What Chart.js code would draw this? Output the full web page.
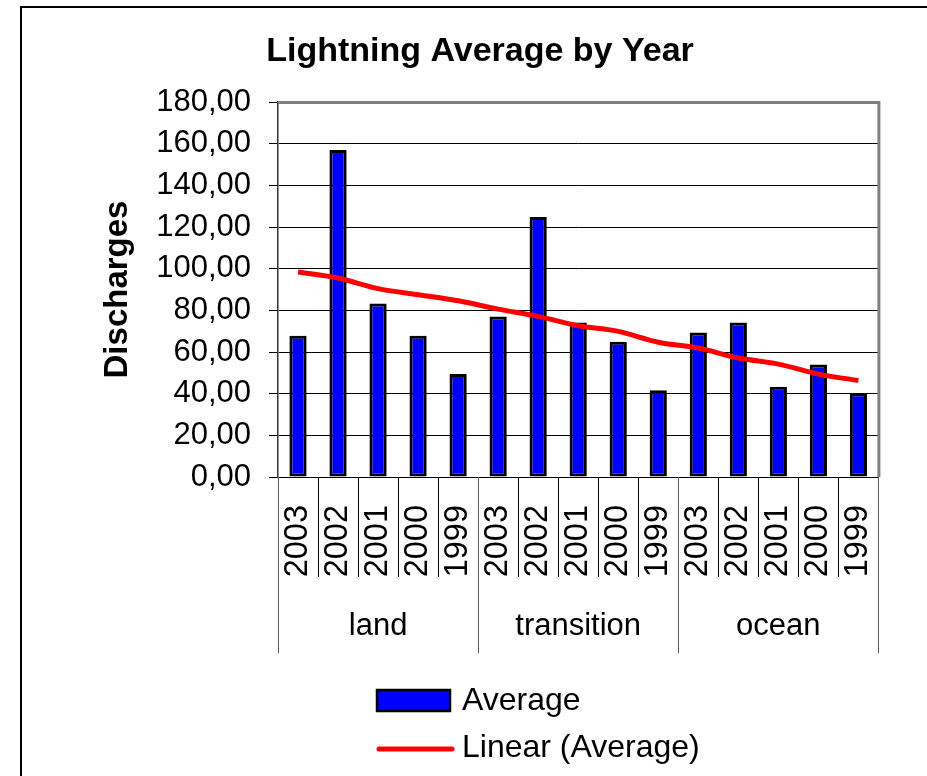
<!DOCTYPE html>
<html>
<head>
<meta charset="utf-8">
<script src="https://cdn.jsdelivr.net/npm/chart.js@4/dist/chart.umd.min.js"></script>
<style>
  html, body { margin: 0; padding: 0; background: #fff; }
  #wrap { position: relative; width: 927px; height: 776px; }
</style>
</head>
<body>
<div id="wrap"><canvas id="c"></canvas></div>
<script>
// ---- data ----
const years = ['2003','2002','2001','2000','1999','2003','2002','2001','2000','1999','2003','2002','2001','2000','1999'];
const groups = ['land', 'transition', 'ocean'];
const averageValues = [67.8, 157.0, 83.3, 67.8, 49.4, 77.1, 124.8, 74.2, 64.9, 41.7, 69.4, 74.2, 43.3, 54.0, 40.2];
const trendValues = [98.4, 95.5, 90.4, 87.5, 84.6, 80.6, 77.1, 72.6, 69.9, 64.7, 61.9, 57.1, 54.2, 49.4, 46.3];
const yTickValues = [0, 20, 40, 60, 80, 100, 120, 140, 160, 180];
const titleText = 'Lightning Average by Year';
const yTitleText = 'Discharges';
const barLabel = 'Average';
const trendLabel = 'Linear (Average)';

const FONT = "'Liberation Sans', Arial, sans-serif";

const decorPlugin = {
  id: 'decor',
  beforeDraw(chart) {
    const ctx = chart.ctx;
    ctx.save();
    ctx.fillStyle = '#fff';
    ctx.fillRect(0, 0, chart.width, chart.height);
    ctx.strokeStyle = '#000';
    ctx.lineWidth = 2;
    ctx.strokeRect(21, 7, chart.width + 10, chart.height + 10);
    ctx.restore();
  },
  afterDraw(chart) {
    const ctx = chart.ctx;
    const xs = chart.scales.x;
    const area = chart.chartArea;
    const n = years.length;
    ctx.save();
    // plot frame top/right in gray
    ctx.strokeStyle = '#808080';
    ctx.lineWidth = 3;
    ctx.beginPath();
    ctx.moveTo(area.left, area.top + 0.5);
    ctx.lineTo(area.right + 0.5, area.top + 0.5);
    ctx.lineTo(area.right + 0.5, area.bottom);
    ctx.stroke();

    // category separators below axis
    for (let i = 0; i <= n; i++) {
      let x;
      if (i === 0) x = xs.left;
      else if (i === n) x = xs.right;
      else x = (xs.getPixelForValue(i - 1) + xs.getPixelForValue(i)) / 2;
      x = Math.round(x) + 0.5;
      const isGroup = i % 5 === 0;
      ctx.strokeStyle = isGroup ? '#555' : '#000';
      ctx.lineWidth = 1;
      ctx.beginPath();
      ctx.moveTo(x, area.bottom);
      ctx.lineTo(x, isGroup ? 653 : 577);
      ctx.stroke();
    }
    // group labels
    ctx.fillStyle = '#000';
    ctx.font = '31px ' + FONT;
    ctx.textAlign = 'center';
    ctx.textBaseline = 'middle';
    groups.forEach((g, gi) => {
      const cx = (xs.getPixelForValue(gi * 5) + xs.getPixelForValue(gi * 5 + 4)) / 2;
      ctx.fillText(g, cx, 626);
    });

    // legend
    const barDs = chart.data.datasets.find(d => d.type === 'bar');
    const lineDs = chart.data.datasets.find(d => d.type === 'line');
    ctx.fillStyle = barDs.backgroundColor;
    ctx.fillRect(377, 690, 73, 21);
    ctx.strokeStyle = '#000';
    ctx.lineWidth = 2.5;
    ctx.strokeRect(377, 690, 73, 21);
    ctx.strokeStyle = lineDs.borderColor;
    ctx.lineWidth = 5;
    ctx.lineCap = 'round';
    ctx.beginPath();
    ctx.moveTo(379, 749);
    ctx.lineTo(452, 749);
    ctx.stroke();
    ctx.fillStyle = '#000';
    ctx.textAlign = 'left';
    ctx.font = '32px ' + FONT;
    ctx.fillText(barDs.label, 462, 701);
    ctx.fillText(lineDs.label, 462, 748);
    ctx.restore();
  }
};

new Chart(document.getElementById('c'), {
  data: {
    labels: years,
    datasets: [
      {
        type: 'line',
        label: trendLabel,
        data: trendValues,
        borderColor: '#FF0000',
        borderWidth: 5,
        pointRadius: 0,
        tension: 0.3,
        fill: false,
        order: 0
      },
      {
        type: 'bar',
        label: barLabel,
        data: averageValues,
        backgroundColor: '#0000FF',
        borderColor: '#000000',
        borderWidth: 3,
        borderSkipped: false,
        barPercentage: 0.43,
        categoryPercentage: 1.0,
        order: 1
      }
    ]
  },
  options: {
    responsive: true,
    maintainAspectRatio: false,
    animation: false,
    devicePixelRatio: 1,
    layout: { padding: { left: 81, right: 48, top: 0, bottom: 0 } },
    plugins: {
      legend: { display: false },
      tooltip: { enabled: false },
      title: {
        display: true,
        text: titleText,
        color: '#000',
        font: { family: FONT, size: 34, weight: 'bold', lineHeight: 1.2 },
        padding: { top: 31, bottom: 30.2 }
      }
    },
    scales: {
      x: {
        type: 'category',
        offset: true,
        grid: { display: false, drawTicks: false, tickLength: 0 },
        border: { display: true, color: '#000', width: 1 },
        ticks: {
          autoSkip: false,
          minRotation: 90,
          maxRotation: 90,
          padding: 28,
          color: '#000',
          font: { family: FONT, size: 32.5 }
        },
        afterFit(s) { s.height = 299; }
      },
      y: {
        min: 0,
        max: 180,
        afterBuildTicks(s) { s.ticks = yTickValues.map(v => ({ value: v })); },
        grid: { color: '#000', lineWidth: 1, tickLength: 9, tickColor: '#000', drawTicks: true },
        border: { display: true, color: '#333', width: 1.5 },
        ticks: {
          padding: 18,
          color: '#000',
          font: { family: FONT, size: 31 },
          callback: v => v.toFixed(2).replace('.', ',')
        },
        title: {
          display: true,
          text: yTitleText,
          color: '#000',
          font: { family: FONT, size: 33, weight: 'bold', lineHeight: 1.2 },
          padding: { top: 17, bottom: 0 }
        },
        afterFit(s) { s.width = 197; }
      }
    }
  },
  plugins: [decorPlugin]
});
</script>
</body>
</html>
